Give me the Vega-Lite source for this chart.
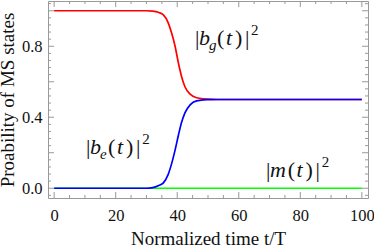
{
  "$schema": "https://vega.github.io/schema/vega-lite/v6.json",
  "width": 320,
  "height": 197,
  "autosize": {"type": "none"},
  "padding": {"left": 48, "top": 1, "right": 6, "bottom": 50},
  "background": "white",
  "config": {
    "view": {"stroke": "#999999", "strokeWidth": 1},
    "font": "Liberation Serif",
    "axis": {
      "domain": false,
      "grid": false,
      "ticks": false,
      "labelFont": "Liberation Serif",
      "labelFontSize": 16.5,
      "labelColor": "#111111",
      "labelOverlap": false,
      "labelBound": false,
      "labelFlush": false,
      "titleFont": "Liberation Serif",
      "titleFontSize": 19,
      "titleFontWeight": "normal",
      "titleColor": "#111111"
    }
  },
  "datasets": {
    "curves": [
      {"series": "m", "t": 0, "p": 0}, {"series": "m", "t": 100, "p": 0},
      {"series": "bg", "t": 0, "p": 1}, {"series": "bg", "t": 30, "p": 1},
      {"series": "bg", "t": 32, "p": 0.998}, {"series": "bg", "t": 34, "p": 0.99},
      {"series": "bg", "t": 35.5, "p": 0.977}, {"series": "bg", "t": 37, "p": 0.935},
      {"series": "bg", "t": 38.2, "p": 0.873}, {"series": "bg", "t": 39.3, "p": 0.8},
      {"series": "bg", "t": 40.4, "p": 0.704}, {"series": "bg", "t": 41.4, "p": 0.63},
      {"series": "bg", "t": 42.5, "p": 0.572}, {"series": "bg", "t": 44.2, "p": 0.53},
      {"series": "bg", "t": 46.3, "p": 0.51}, {"series": "bg", "t": 49.6, "p": 0.502},
      {"series": "bg", "t": 53, "p": 0.5}, {"series": "bg", "t": 100, "p": 0.5},
      {"series": "be", "t": 0, "p": 0}, {"series": "be", "t": 30, "p": 0},
      {"series": "be", "t": 32, "p": 0.003}, {"series": "be", "t": 34, "p": 0.015},
      {"series": "be", "t": 35.5, "p": 0.03}, {"series": "be", "t": 37, "p": 0.075},
      {"series": "be", "t": 38.2, "p": 0.14}, {"series": "be", "t": 39.3, "p": 0.215},
      {"series": "be", "t": 40.4, "p": 0.3}, {"series": "be", "t": 41.4, "p": 0.37},
      {"series": "be", "t": 42.5, "p": 0.425}, {"series": "be", "t": 44.2, "p": 0.47},
      {"series": "be", "t": 46.3, "p": 0.492}, {"series": "be", "t": 49.6, "p": 0.499},
      {"series": "be", "t": 53, "p": 0.5}, {"series": "be", "t": 100, "p": 0.5}
    ],
    "xt": [
      {"v": 0, "k": "major"}, {"v": 5, "k": "minor"}, {"v": 10, "k": "minor"}, {"v": 15, "k": "minor"},
      {"v": 20, "k": "major"}, {"v": 25, "k": "minor"}, {"v": 30, "k": "minor"}, {"v": 35, "k": "minor"},
      {"v": 40, "k": "major"}, {"v": 45, "k": "minor"}, {"v": 50, "k": "minor"}, {"v": 55, "k": "minor"},
      {"v": 60, "k": "major"}, {"v": 65, "k": "minor"}, {"v": 70, "k": "minor"}, {"v": 75, "k": "minor"},
      {"v": 80, "k": "major"}, {"v": 85, "k": "minor"}, {"v": 90, "k": "minor"}, {"v": 95, "k": "minor"},
      {"v": 100, "k": "major"}
    ],
    "yt": [
      {"v": -0.04, "k": "minor"}, {"v": 0, "k": "major"}, {"v": 0.04, "k": "minor"}, {"v": 0.08, "k": "minor"},
      {"v": 0.12, "k": "minor"}, {"v": 0.16, "k": "minor"}, {"v": 0.2, "k": "major"}, {"v": 0.24, "k": "minor"},
      {"v": 0.28, "k": "minor"}, {"v": 0.32, "k": "minor"}, {"v": 0.36, "k": "minor"}, {"v": 0.4, "k": "major"},
      {"v": 0.44, "k": "minor"}, {"v": 0.48, "k": "minor"}, {"v": 0.52, "k": "minor"}, {"v": 0.56, "k": "minor"},
      {"v": 0.6, "k": "major"}, {"v": 0.64, "k": "minor"}, {"v": 0.68, "k": "minor"}, {"v": 0.72, "k": "minor"},
      {"v": 0.76, "k": "minor"}, {"v": 0.8, "k": "major"}, {"v": 0.84, "k": "minor"}, {"v": 0.88, "k": "minor"},
      {"v": 0.92, "k": "minor"}, {"v": 0.96, "k": "minor"}, {"v": 1, "k": "major"}, {"v": 1.04, "k": "minor"}
    ],
    "labels": [
      {"text": "|", "role": "up", "x": 45.77, "y": 0.807},
      {"text": "b", "role": "it", "x": 47.07, "y": 0.807},
      {"text": "g", "role": "sub", "x": 50.3, "y": 0.779},
      {"text": "(", "role": "up", "x": 52.92, "y": 0.807},
      {"text": "t", "role": "it", "x": 55.85, "y": 0.807},
      {"text": ")", "role": "up", "x": 58.77, "y": 0.807},
      {"text": "|", "role": "up", "x": 62.02, "y": 0.807},
      {"text": "2", "role": "sup", "x": 64.0, "y": 0.8635},
      {"text": "|", "role": "up", "x": 10.35, "y": 0.193},
      {"text": "b", "role": "it", "x": 11.65, "y": 0.193},
      {"text": "e", "role": "sub", "x": 14.9, "y": 0.165},
      {"text": "(", "role": "up", "x": 17.5, "y": 0.193},
      {"text": "t", "role": "it", "x": 20.43, "y": 0.193},
      {"text": ")", "role": "up", "x": 23.35, "y": 0.193},
      {"text": "|", "role": "up", "x": 26.6, "y": 0.193},
      {"text": "2", "role": "sup", "x": 28.6, "y": 0.249},
      {"text": "|", "role": "up", "x": 68.85, "y": 0.0635},
      {"text": "m", "role": "it", "x": 70.15, "y": 0.0635},
      {"text": "(", "role": "up", "x": 75.9, "y": 0.0635},
      {"text": "t", "role": "it", "x": 78.8, "y": 0.0635},
      {"text": ")", "role": "up", "x": 81.7, "y": 0.0635},
      {"text": "|", "role": "up", "x": 84.95, "y": 0.0635},
      {"text": "2", "role": "sup", "x": 86.95, "y": 0.12}
    ]
  },
  "layer": [
    {
      "data": {"name": "curves"},
      "mark": {"type": "line", "interpolate": "monotone", "strokeWidth": 1.7},
      "encoding": {
        "x": {
          "field": "t", "type": "quantitative",
          "scale": {"domain": [-2, 102], "nice": false, "zero": false},
          "axis": {
            "orient": "bottom",
            "title": "Normalized time t/T",
            "values": [0, 20, 40, 60, 80, 100],
            "ticks": false,
            "labelFont": "Liberation Serif",
            "labelPadding": 9,
            "titlePadding": 6
          }
        },
        "y": {
          "field": "p", "type": "quantitative",
          "scale": {"domain": [-0.055, 1.055], "nice": false, "zero": false},
          "axis": {
            "orient": "left",
            "title": "Proability of MS states",
            "values": [0, 0.2, 0.4, 0.6, 0.8, 1],
            "format": ".1f",
            "ticks": false,
            "labelFont": "Liberation Serif",
            "labelPadding": 6,
            "titlePadding": 4
          }
        },
        "color": {
          "field": "series", "type": "nominal",
          "scale": {"domain": ["m", "bg", "be"], "range": ["#00ff00", "#ff0000", "#0000ff"]},
          "legend": null
        }
      }
    },
    {
      "data": {"name": "xt"},
      "transform": [{"filter": "datum.k == 'major'"}],
      "mark": {"type": "rule", "color": "#999999", "strokeWidth": 1},
      "encoding": {
        "x": {"field": "v", "type": "quantitative"},
        "y": {"datum": -0.055, "type": "quantitative"},
        "y2": {"datum": -0.0212}
      }
    },
    {
      "data": {"name": "xt"},
      "transform": [{"filter": "datum.k == 'minor'"}],
      "mark": {"type": "rule", "color": "#999999", "strokeWidth": 1},
      "encoding": {
        "x": {"field": "v", "type": "quantitative"},
        "y": {"datum": -0.055, "type": "quantitative"},
        "y2": {"datum": -0.0381}
      }
    },
    {
      "data": {"name": "xt"},
      "transform": [{"filter": "datum.k == 'major'"}],
      "mark": {"type": "rule", "color": "#999999", "strokeWidth": 1},
      "encoding": {
        "x": {"field": "v", "type": "quantitative"},
        "y": {"datum": 1.055, "type": "quantitative"},
        "y2": {"datum": 1.0212}
      }
    },
    {
      "data": {"name": "xt"},
      "transform": [{"filter": "datum.k == 'minor'"}],
      "mark": {"type": "rule", "color": "#999999", "strokeWidth": 1},
      "encoding": {
        "x": {"field": "v", "type": "quantitative"},
        "y": {"datum": 1.055, "type": "quantitative"},
        "y2": {"datum": 1.0381}
      }
    },
    {
      "data": {"name": "yt"},
      "transform": [{"filter": "datum.k == 'major'"}],
      "mark": {"type": "rule", "color": "#999999", "strokeWidth": 1},
      "encoding": {
        "y": {"field": "v", "type": "quantitative"},
        "x": {"datum": -2, "type": "quantitative"},
        "x2": {"datum": -0.05}
      }
    },
    {
      "data": {"name": "yt"},
      "transform": [{"filter": "datum.k == 'minor'"}],
      "mark": {"type": "rule", "color": "#999999", "strokeWidth": 1},
      "encoding": {
        "y": {"field": "v", "type": "quantitative"},
        "x": {"datum": -2, "type": "quantitative"},
        "x2": {"datum": -1.025}
      }
    },
    {
      "data": {"name": "yt"},
      "transform": [{"filter": "datum.k == 'major'"}],
      "mark": {"type": "rule", "color": "#999999", "strokeWidth": 1},
      "encoding": {
        "y": {"field": "v", "type": "quantitative"},
        "x": {"datum": 102, "type": "quantitative"},
        "x2": {"datum": 100.05}
      }
    },
    {
      "data": {"name": "yt"},
      "transform": [{"filter": "datum.k == 'minor'"}],
      "mark": {"type": "rule", "color": "#999999", "strokeWidth": 1},
      "encoding": {
        "y": {"field": "v", "type": "quantitative"},
        "x": {"datum": 102, "type": "quantitative"},
        "x2": {"datum": 101.025}
      }
    },
    {
      "data": {"name": "labels"},
      "transform": [{"filter": "datum.role == 'up'"}],
      "mark": {"type": "text", "align": "left", "baseline": "alphabetic", "font": "Liberation Serif", "fontSize": 22, "color": "#111111"},
      "encoding": {
        "x": {"field": "x", "type": "quantitative"},
        "y": {"field": "y", "type": "quantitative"},
        "text": {"field": "text"}
      }
    },
    {
      "data": {"name": "labels"},
      "transform": [{"filter": "datum.role == 'it'"}],
      "mark": {"type": "text", "align": "left", "baseline": "alphabetic", "font": "Liberation Serif", "fontStyle": "italic", "fontSize": 22, "color": "#111111"},
      "encoding": {
        "x": {"field": "x", "type": "quantitative"},
        "y": {"field": "y", "type": "quantitative"},
        "text": {"field": "text"}
      }
    },
    {
      "data": {"name": "labels"},
      "transform": [{"filter": "datum.role == 'sub'"}],
      "mark": {"type": "text", "align": "left", "baseline": "alphabetic", "font": "Liberation Serif", "fontStyle": "italic", "fontSize": 15, "color": "#111111"},
      "encoding": {
        "x": {"field": "x", "type": "quantitative"},
        "y": {"field": "y", "type": "quantitative"},
        "text": {"field": "text"}
      }
    },
    {
      "data": {"name": "labels"},
      "transform": [{"filter": "datum.role == 'sup'"}],
      "mark": {"type": "text", "align": "left", "baseline": "alphabetic", "font": "Liberation Serif", "fontSize": 15, "color": "#111111"},
      "encoding": {
        "x": {"field": "x", "type": "quantitative"},
        "y": {"field": "y", "type": "quantitative"},
        "text": {"field": "text"}
      }
    }
  ]
}
